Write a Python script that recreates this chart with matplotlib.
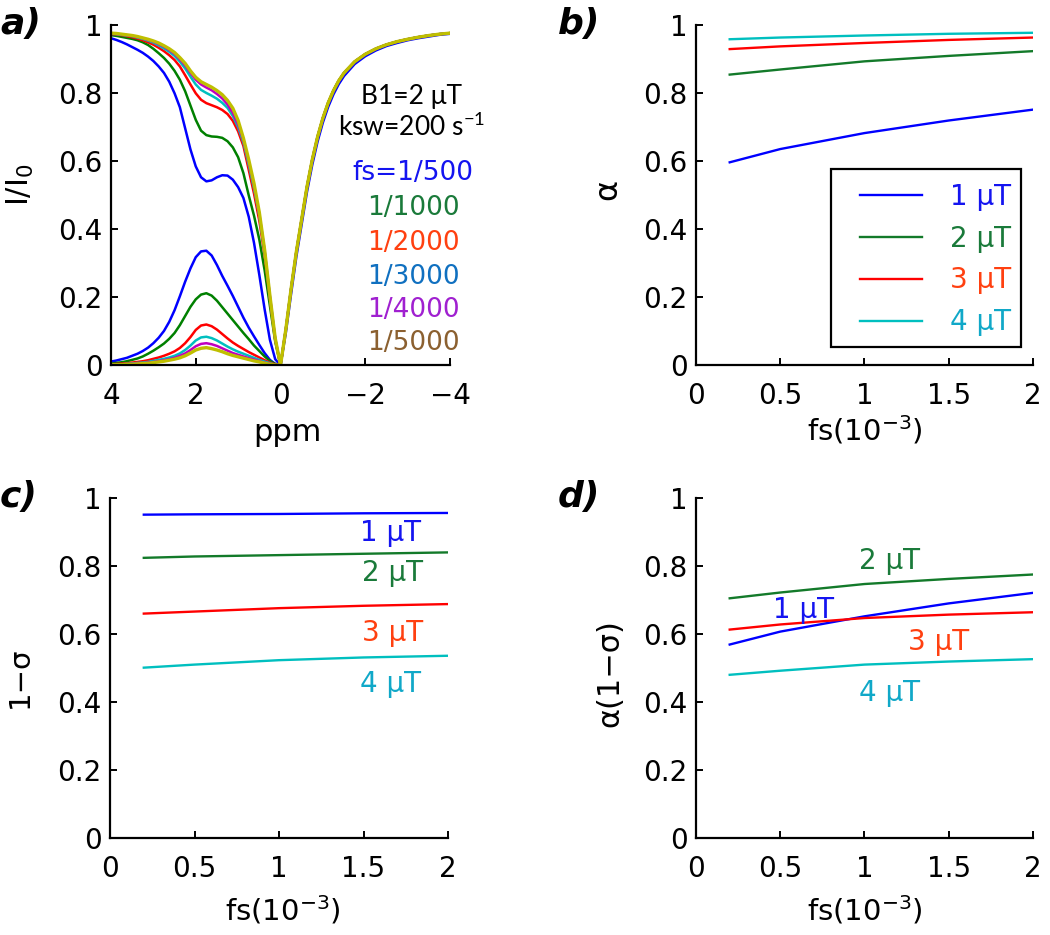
import matplotlib
matplotlib.use("Agg")
import matplotlib.pyplot as plt
from matplotlib.patches import Rectangle

plt.rcParams['font.family'] = ['DejaVu Sans']
plt.rcParams['mathtext.default'] = 'regular'

# ---------------- data ----------------
ppm_left = [4, 3.875, 3.75, 3.625, 3.5, 3.375, 3.25, 3.125, 3, 2.875, 2.75, 2.625, 2.5, 2.375, 2.25, 2.125,
            2, 1.875, 1.75, 1.625, 1.5, 1.375, 1.25, 1.125, 1, 0.875, 0.75, 0.625, 0.5, 0.375, 0.25, 0.125, 0]
ppm_right = [-0.125, -0.25, -0.375, -0.5, -0.625, -0.75, -0.875, -1, -1.125, -1.25, -1.375, -1.5,
             -1.75, -2, -2.25, -2.5, -2.75, -3, -3.25, -3.5, -3.75, -4]

fs_labels = ['fs=1/500', '1/1000', '1/2000', '1/3000', '1/4000', '1/5000']

# Z-spectra, positive-offset side (ppm_left)
z_500 = [0.962, 0.957, 0.951, 0.944, 0.936, 0.928, 0.919, 0.908, 0.895, 0.879, 0.860, 0.834, 0.800, 0.759, 0.697, 0.635,
         0.585, 0.553, 0.541, 0.544, 0.553, 0.559, 0.558, 0.546, 0.524, 0.492, 0.437, 0.360, 0.266, 0.165, 0.075, 0.018, 0.0]
z_1000 = [0.971, 0.969, 0.966, 0.963, 0.960, 0.956, 0.950, 0.942, 0.931, 0.918, 0.904, 0.887, 0.866, 0.840, 0.806, 0.764,
          0.722, 0.690, 0.677, 0.673, 0.672, 0.669, 0.659, 0.641, 0.612, 0.565, 0.500, 0.440, 0.370, 0.280, 0.175, 0.070, 0.0]
z_2000 = [0.974, 0.973, 0.971, 0.968, 0.965, 0.961, 0.956, 0.950, 0.943, 0.934, 0.924, 0.912, 0.898, 0.879, 0.853, 0.826,
          0.800, 0.781, 0.771, 0.765, 0.759, 0.751, 0.739, 0.719, 0.688, 0.645, 0.575, 0.505, 0.425, 0.325, 0.195, 0.076, 0.0]
z_3000 = [0.975, 0.974, 0.972, 0.970, 0.968, 0.964, 0.960, 0.955, 0.949, 0.941, 0.932, 0.922, 0.910, 0.893, 0.873, 0.849,
          0.826, 0.810, 0.801, 0.793, 0.784, 0.772, 0.757, 0.733, 0.700, 0.655, 0.590, 0.520, 0.440, 0.335, 0.200, 0.078, 0.0]
z_4000 = [0.976, 0.975, 0.973, 0.971, 0.969, 0.966, 0.962, 0.957, 0.952, 0.945, 0.937, 0.927, 0.916, 0.900, 0.882, 0.860,
          0.840, 0.826, 0.817, 0.809, 0.798, 0.785, 0.767, 0.742, 0.708, 0.661, 0.598, 0.528, 0.445, 0.338, 0.203, 0.079, 0.0]
z_5000 = [0.977, 0.976, 0.974, 0.972, 0.970, 0.967, 0.963, 0.959, 0.954, 0.948, 0.940, 0.931, 0.920, 0.905, 0.888, 0.866,
          0.847, 0.834, 0.826, 0.818, 0.808, 0.796, 0.779, 0.756, 0.720, 0.668, 0.605, 0.535, 0.450, 0.340, 0.205, 0.080, 0.0]

# Z-spectra, negative-offset side (ppm_right)
z_right_500 = [0.095, 0.21, 0.32, 0.415, 0.51, 0.59, 0.658, 0.714, 0.760, 0.797, 0.827, 0.851,
               0.886, 0.909, 0.926, 0.939, 0.948, 0.956, 0.962, 0.967, 0.972, 0.975]
z_right = [0.105, 0.225, 0.335, 0.43, 0.525, 0.605, 0.672, 0.727, 0.772, 0.808, 0.837, 0.860,
           0.893, 0.915, 0.931, 0.943, 0.952, 0.959, 0.965, 0.970, 0.974, 0.977]

# lower (difference) curves on ppm_left
d_500 = [0.011, 0.014, 0.018, 0.022, 0.028, 0.034, 0.042, 0.052, 0.065, 0.081, 0.101, 0.128, 0.162, 0.203, 0.246, 0.285,
         0.318, 0.335, 0.337, 0.323, 0.295, 0.263, 0.234, 0.204, 0.172, 0.140, 0.111, 0.085, 0.060, 0.036, 0.016, 0.004, 0.0]
d_1000 = [0.005, 0.007, 0.009, 0.012, 0.016, 0.020, 0.026, 0.034, 0.043, 0.053, 0.064, 0.078, 0.095, 0.118, 0.145, 0.172,
          0.194, 0.208, 0.212, 0.205, 0.190, 0.171, 0.152, 0.133, 0.114, 0.095, 0.077, 0.058, 0.042, 0.026, 0.013, 0.004, 0.0]
d_2000 = [0.003, 0.004, 0.005, 0.006, 0.008, 0.010, 0.012, 0.015, 0.019, 0.023, 0.028, 0.034, 0.041, 0.051, 0.065, 0.083,
          0.104, 0.117, 0.120, 0.115, 0.105, 0.092, 0.079, 0.067, 0.057, 0.048, 0.039, 0.031, 0.023, 0.015, 0.008, 0.003, 0.0]
d_3000 = [0.002, 0.003, 0.003, 0.004, 0.005, 0.007, 0.008, 0.010, 0.013, 0.016, 0.019, 0.023, 0.028, 0.035, 0.045, 0.058,
          0.073, 0.082, 0.084, 0.080, 0.073, 0.064, 0.055, 0.047, 0.040, 0.034, 0.028, 0.022, 0.016, 0.011, 0.006, 0.002, 0.0]
d_4000 = [0.002, 0.002, 0.003, 0.003, 0.004, 0.005, 0.006, 0.008, 0.010, 0.012, 0.015, 0.018, 0.022, 0.028, 0.035, 0.045,
          0.056, 0.063, 0.065, 0.062, 0.057, 0.050, 0.043, 0.036, 0.031, 0.026, 0.021, 0.017, 0.012, 0.008, 0.004, 0.002, 0.0]
d_5000 = [0.001, 0.002, 0.002, 0.003, 0.003, 0.004, 0.005, 0.006, 0.008, 0.010, 0.012, 0.015, 0.018, 0.022, 0.028, 0.036,
          0.045, 0.050, 0.052, 0.049, 0.045, 0.040, 0.034, 0.029, 0.025, 0.021, 0.017, 0.013, 0.010, 0.006, 0.003, 0.001, 0.0]

fs = [0.2, 0.5, 1.0, 1.5, 2.0]
b1_labels = ['1 μT', '2 μT', '3 μT', '4 μT']

alpha_1 = [0.597, 0.636, 0.683, 0.720, 0.752]
alpha_2 = [0.855, 0.870, 0.894, 0.910, 0.924]
alpha_3 = [0.930, 0.938, 0.948, 0.957, 0.964]
alpha_4 = [0.959, 0.964, 0.970, 0.975, 0.978]

sig_1 = [0.951, 0.952, 0.953, 0.955, 0.956]
sig_2 = [0.824, 0.828, 0.832, 0.836, 0.840]
sig_3 = [0.660, 0.666, 0.676, 0.683, 0.688]
sig_4 = [0.501, 0.510, 0.523, 0.531, 0.536]

prod_1 = [0.569, 0.607, 0.652, 0.690, 0.721]
prod_2 = [0.705, 0.722, 0.747, 0.762, 0.775]
prod_3 = [0.613, 0.628, 0.647, 0.657, 0.664]
prod_4 = [0.480, 0.492, 0.510, 0.519, 0.526]

# ---------------- style ----------------
line_cols6 = ['#0000ff', '#008000', '#ff0000', '#00bfbf', '#bf00bf', '#bfbf00']
text_cols6 = ['#1414f0', '#1a7a3a', '#ff4010', '#1070c0', '#a020d0', '#8b6030']
line_cols4 = ['#0000ff', '#137a2a', '#ff0000', '#00bfbf']
text_cols4 = ['#1414f0', '#1a7a3a', '#ff4010', '#10a8c8']

W, H = 1050, 935
fig = plt.figure(figsize=(W / 100, H / 100), dpi=100)

def px_axes(left, right, top, bottom):
    return fig.add_axes([left / W, 1 - bottom / H, (right - left) / W, (bottom - top) / H])

axa = px_axes(111, 450, 25.3, 365.3)
axb = px_axes(696, 1033, 25.3, 365.3)
axc = px_axes(110, 448, 498, 838)
axd = px_axes(696, 1033, 498, 838)

TICK_FS = 20
LAB_FS = 21

def style(ax):
    for s in ['top', 'right']:
        ax.spines[s].set_visible(False)
    for s in ['left', 'bottom']:
        ax.spines[s].set_linewidth(1.6)
    ax.tick_params(direction='in', length=5, width=1.4, labelsize=TICK_FS)
    ax.tick_params(axis='y', pad=6)
    ax.tick_params(axis='x', pad=12)
    ax.set_ylim(0, 1)
    ax.set_yticks([0, 0.2, 0.4, 0.6, 0.8, 1])
    ax.set_yticklabels(['0', '0.2', '0.4', '0.6', '0.8', '1'])

# ---- panel a ----
style(axa)
z_left = [z_500, z_1000, z_2000, z_3000, z_4000, z_5000]
z_rights = [z_right_500, z_right, z_right, z_right, z_right, z_right]
d_all = [d_500, d_1000, d_2000, d_3000, d_4000, d_5000]
for i in range(6):
    lw = 2.4 if i == 5 else 1.8
    axa.plot(ppm_left + ppm_right, z_left[i] + z_rights[i], color=line_cols6[i], lw=lw,
             solid_joinstyle='round', solid_capstyle='round')
    axa.plot(ppm_left, d_all[i], color=line_cols6[i], lw=lw,
             solid_joinstyle='round', solid_capstyle='round')
axa.set_xlim(4, -4)
axa.set_xticks([4, 2, 0, -2, -4])
axa.set_xticklabels(['4', '2', '0', '\u22122', '\u22124'])
axa.set_xlabel('ppm', fontsize=LAB_FS + 1)
axa.set_ylabel('I/I$_0$', fontsize=LAB_FS + 1)
axa.text(-3.1, 0.79, 'B1=2 μT', fontsize=19, family=['Lato', 'DejaVu Sans'], ha='center', va='center')
axa.text(-3.1, 0.70, 'ksw=200 s$^{-1}$', fontsize=19, family=['Lato', 'DejaVu Sans'], ha='center', va='center')
fs_y = [0.565, 0.462, 0.36, 0.26, 0.162, 0.065]
for i in range(6):
    axa.text(-3.13, fs_y[i], fs_labels[i], fontsize=19, color=text_cols6[i], ha='center', va='center')

# ---- panels b, c, d ----
def fs_axis(ax):
    ax.set_xlim(0, 2)
    ax.set_xticks([0, 0.5, 1, 1.5, 2])
    ax.set_xticklabels(['0', '0.5', '1', '1.5', '2'])
    ax.set_xlabel('fs(10$^{-3}$)', fontsize=LAB_FS)

style(axb)
lines_b = []
for i, ser in enumerate([alpha_1, alpha_2, alpha_3, alpha_4]):
    ln, = axb.plot(fs, ser, color=line_cols4[i], lw=1.7, label=b1_labels[i])
    lines_b.append(ln)
fs_axis(axb)
axb.set_ylabel('α', fontsize=LAB_FS + 2)
leg = axb.legend(handles=lines_b, loc='upper left', bbox_to_anchor=(0.445, 0.578),
                 frameon=False, fontsize=TICK_FS, handlelength=2.25, handletextpad=1.0,
                 labelspacing=0.50, borderpad=0.0, labelcolor=text_cols4)
axb.add_patch(Rectangle((0.40, 0.054), 0.564, 0.523, transform=axb.transAxes,
                        fill=False, lw=1.6, edgecolor='black', clip_on=False, zorder=5))

style(axc)
for i, ser in enumerate([sig_1, sig_2, sig_3, sig_4]):
    axc.plot(fs, ser, color=line_cols4[i], lw=1.7)
fs_axis(axc)
axc.set_ylabel('1\u2212σ', fontsize=LAB_FS)
c_lab_x = [1.66, 1.67, 1.67, 1.66]
c_lab_y = [0.873, 0.755, 0.578, 0.428]
for i in range(4):
    axc.text(c_lab_x[i], c_lab_y[i], b1_labels[i], fontsize=TICK_FS, color=text_cols4[i], ha='center', va='baseline')

style(axd)
for i, ser in enumerate([prod_1, prod_2, prod_3, prod_4]):
    axd.plot(fs, ser, color=line_cols4[i], lw=1.7)
fs_axis(axd)
axd.set_ylabel('α(1\u2212σ)', fontsize=LAB_FS + 1)
d_lab_x = [0.638, 1.151, 1.437, 1.151]
d_lab_y = [0.647, 0.791, 0.554, 0.402]
for i in range(4):
    axd.text(d_lab_x[i], d_lab_y[i], b1_labels[i], fontsize=TICK_FS, color=text_cols4[i], ha='center', va='baseline')

# label placement
ylab_coords = {axa: (-0.268, 0.53), axb: (-0.261, 0.516), axc: (-0.266, 0.474), axd: (-0.255, 0.485)}
xlab_coords = {axa: (0.519, -0.199), axb: (0.50, -0.19), axc: (0.512, -0.212), axd: (0.50, -0.212)}
for ax in [axa, axb, axc, axd]:
    ax.yaxis.set_label_coords(*ylab_coords[ax])
    ax.yaxis.label.set_va('center')
    ax.xaxis.set_label_coords(*xlab_coords[ax])
    ax.xaxis.label.set_va('center')

# panel letters
for lab, x, y in [('a)', 0, 7), ('b)', 558, 7), ('c)', 0, 480), ('d)', 558, 480)]:
    fig.text(x / W, 1 - y / H, lab, fontsize=26, fontweight='bold', style='italic', ha='left', va='top')

fig.savefig('out.png', dpi=100)
